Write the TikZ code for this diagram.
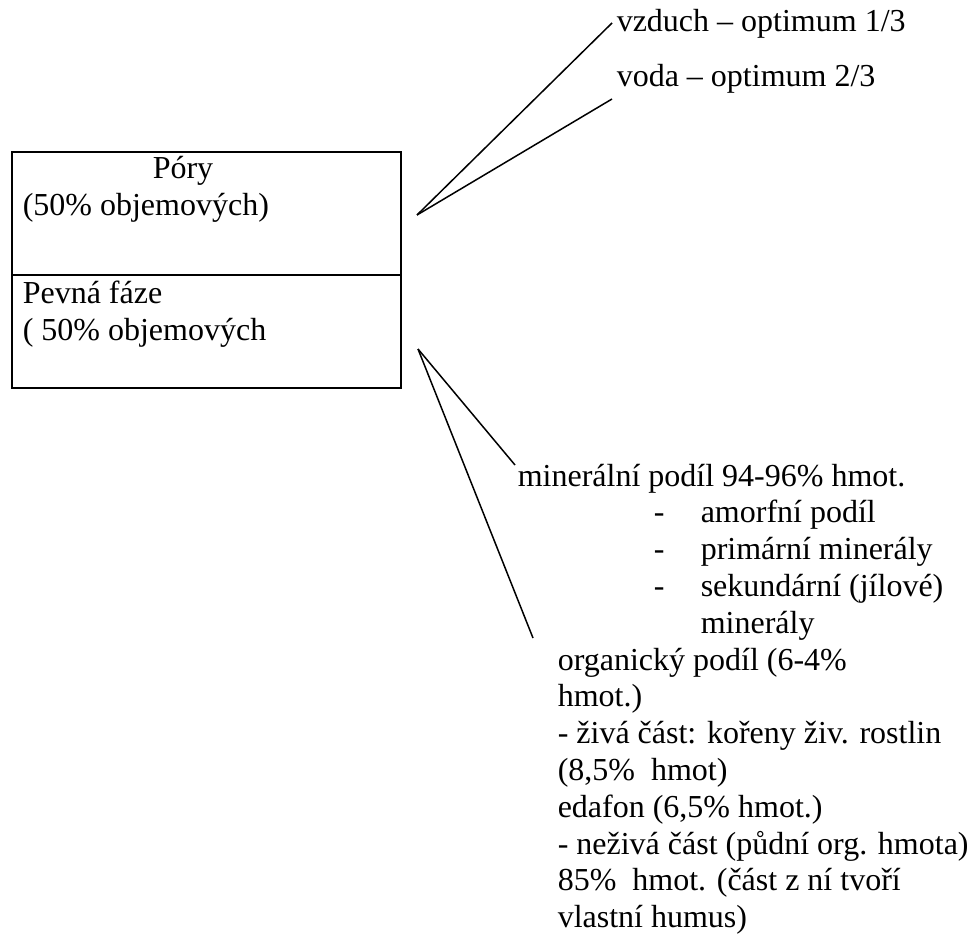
\documentclass[tikz,border=0pt]{standalone}
\usepackage{fontspec}
\setmainfont{Liberation Serif}

\begin{document}
\begin{tikzpicture}[x=1pt,y=-1pt,line width=1.5pt,
  every node/.style={inner sep=0pt,anchor=base west,font=\fontsize{32}{36.8}\selectfont}]

\useasboundingbox (0,0) rectangle (976,934);

% the box
\draw[line width=2pt] (12,152) rectangle (401,388);
\draw[line width=2pt] (12,275)--(401,275);

\node (pory) at (152,178) {Póry};
\node (poryproc) at (22,215) {(50\% objemových)};
\node (pevna) at (22,303) {Pevná fáze};
\node (pevnaproc) at (22,340) {( 50\% objemových};

% pores
\node (vzduch) at (616,32) {vzduch – optimum 1/3};
\node (voda) at (616,86) {voda – optimum 2/3};

\coordinate (porybod) at (417,215);
\coordinate (vzduchkon) at (612,23);
\coordinate (vodakon) at (612,99);
\draw (porybod)--(vzduchkon);
\draw (porybod)--(vodakon);

% solid phase
\node (mineral) at (517,486) {minerální podíl 94-96\% hmot.};
\foreach \t [count=\i] in {amorfní podíl,primární minerály,sekundární (jílové)}{
	\node (pomlcka\i) at (653,{486+36.8*\i}) {-};
	\node (mineral\i) at (700,{486+36.8*\i}) {\t};
}
\node (mineral4) at (700,633.2) {minerály};

\foreach \t [count=\i from 0] in {organický podíl (6-4\%,hmot.),- živá část: kořeny živ. rostlin,{(8,5\%\ \ hmot)},{edafon (6,5\% hmot.)},- neživá část (půdní org. hmota),85\%\ \ hmot. (část z ní tvoří,vlastní humus)}{
	\node (organ\i) at (557,{670+36.8*\i}) {\t};
}

\coordinate (pevnabod) at (418,349);
\coordinate (mineralkon) at (515,465);
\coordinate (organkon) at (533,638);
\draw (pevnabod)--(mineralkon);
\draw (pevnabod)--(organkon);

\end{tikzpicture}
\end{document}
